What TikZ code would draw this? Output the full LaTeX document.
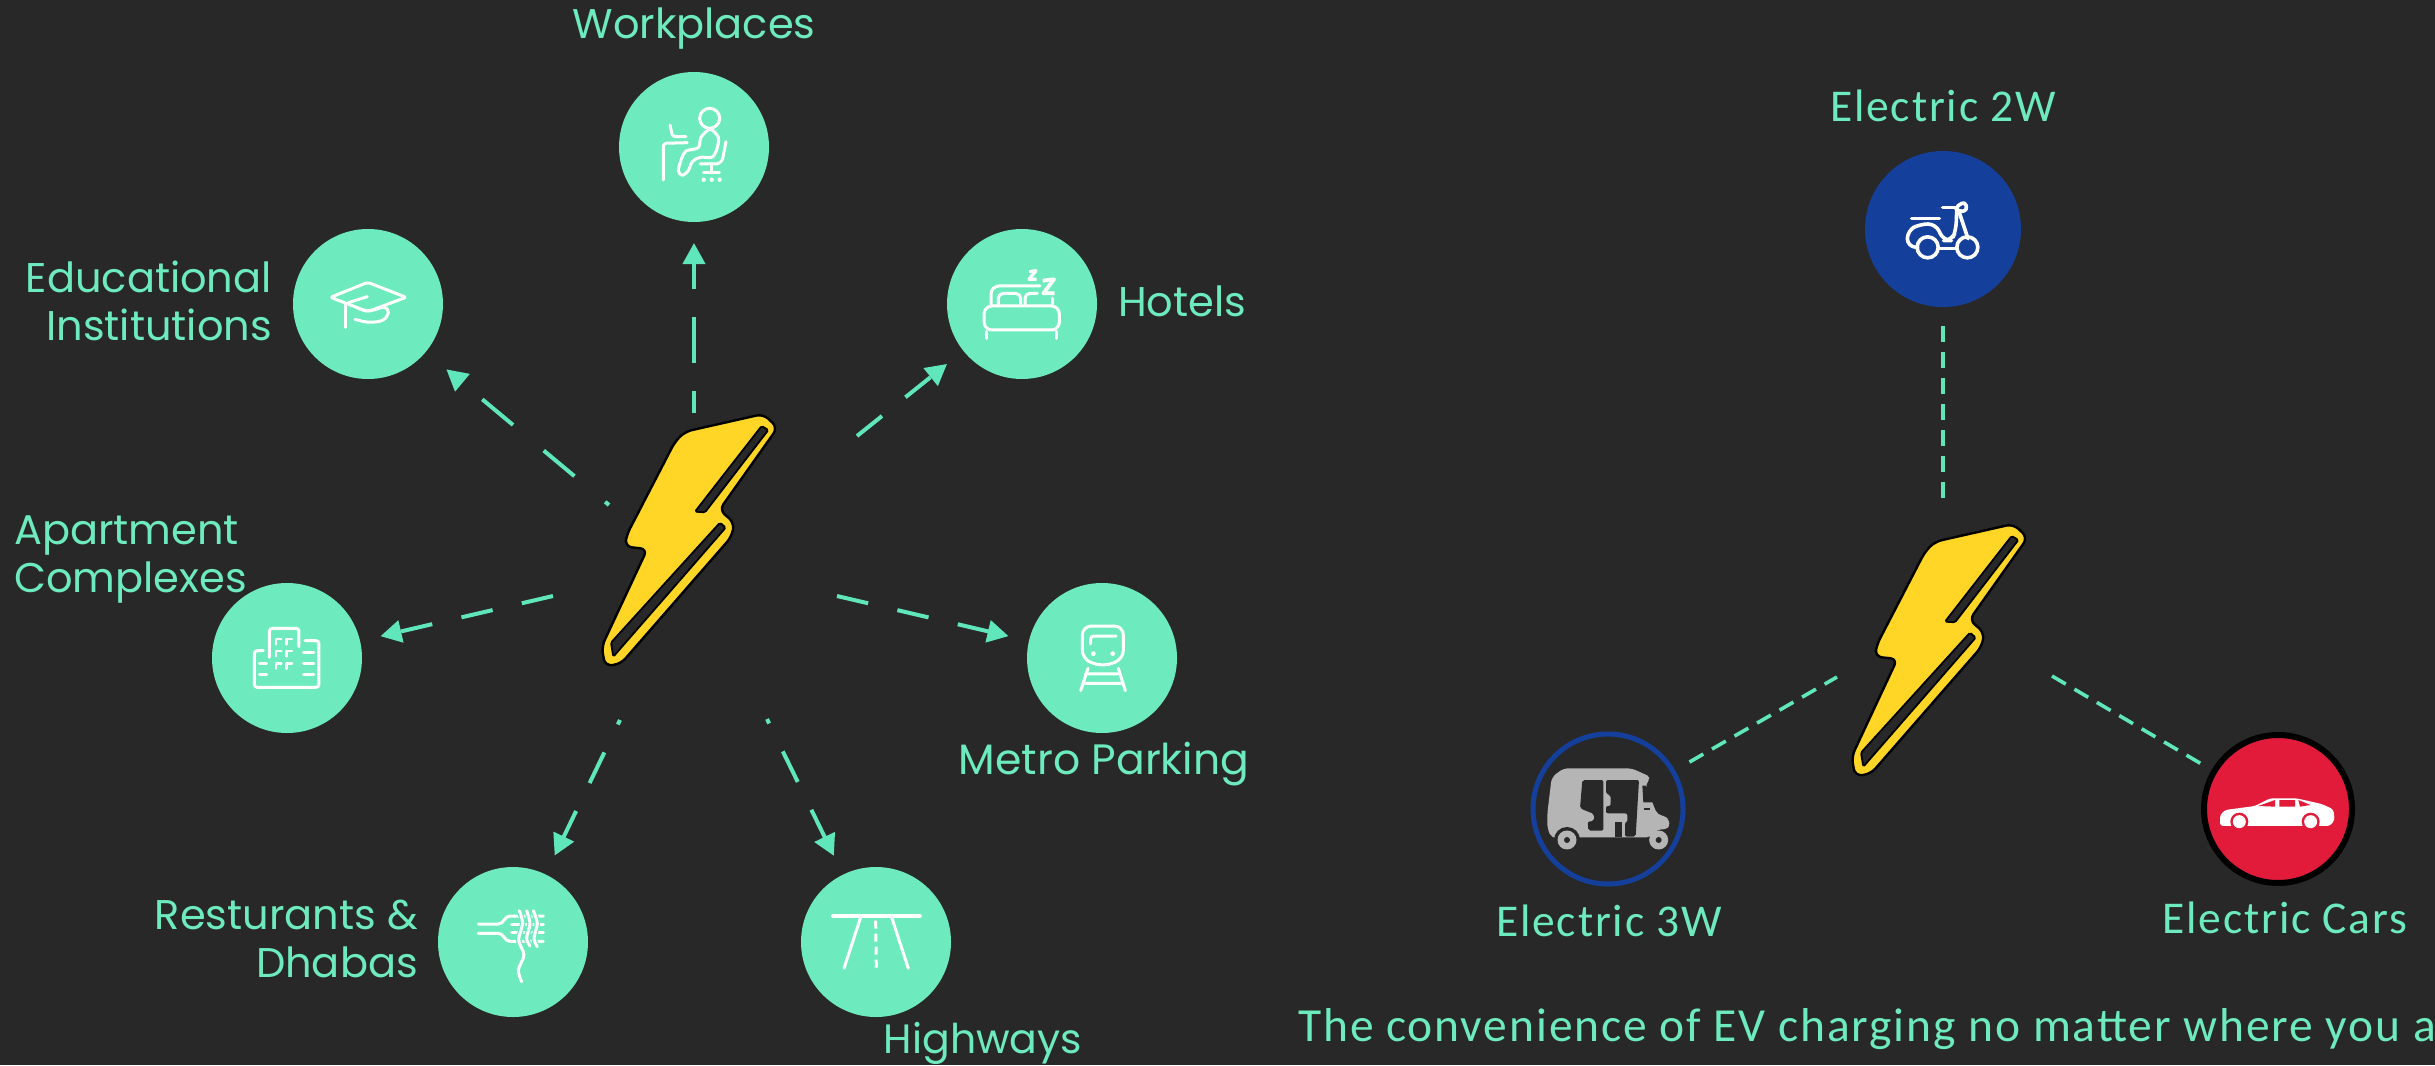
\documentclass[tikz,border=0pt]{standalone}
\usepackage{fontspec}
\setmainfont{Poppins}
\newfontfamily\carl[LetterSpace=4]{Carlito}
\usetikzlibrary{arrows.meta}
\definecolor{bgdark}{HTML}{282828}
\definecolor{mint}{HTML}{6DEBBE}
\definecolor{mintline}{HTML}{5FE6BB}
\definecolor{boltyellow}{HTML}{FFD625}
\definecolor{scooterblue}{HTML}{14409B}
\definecolor{carred}{HTML}{E31B3A}
\definecolor{rickshaw}{HTML}{B5B5B5}
\tikzset{
  hub/.style={circle,fill=mint,minimum size=150pt,inner sep=0pt,outer sep=0pt},
  lefttext/.style={text=mint,font=\fontsize{41.5}{48}\selectfont,inner sep=0pt},
  righttext/.style={text=mint,font=\carl\fontsize{45.5}{50}\selectfont,inner sep=0pt},
  spoke/.style={draw=mintline,line width=4pt,dash pattern=on 32pt off 30pt,shorten >=21pt,
    -{Triangle[length=21pt,width=22pt,fill=mintline]}},
  tie/.style={draw=mintline,line width=3.6pt,dash pattern=on 16pt off 10pt},
  iconzoom/.style={x=0.3333pt,y=-0.3333pt,draw=white,line width=3pt,line cap=round,line join=round},
  pics/bolt/.style={code={
    \begin{scope}[x=0.3333pt,y=-0.3333pt]
      \draw[black,fill=boltyellow,line width=2.4pt,line join=round,rounded corners=7pt]
        (640,102)--(683,143)--(508,390)--(553,428)--(545,470)--(212,852)--(165,858)--(155,800)
        --(292,507)--(225,500)--(230,465)--(375,185)--(405,155)--cycle;
      \draw[black,fill=bgdark,line width=1.8pt,line join=round,rounded corners=1.5pt]
        (635,138)--(655,150)--(465,397)--(435,395)--cycle;
      \draw[black,fill=bgdark,line width=1.8pt,line join=round,rounded corners=1.5pt]
        (510,428)--(527,443)--(190,830)--(183,788)--cycle;
    \end{scope}}}
}
\begin{document}
\begin{tikzpicture}[x=1pt,y=-1pt]
\useasboundingbox (0,0) rectangle (2435,1065);
\clip (0,0) rectangle (2435,1065);
\fill[bgdark] (0,0) rectangle (2435,1065);

% left hubs
\node[hub] (work) at (694,147) {};
\node[hub] (edu) at (368,304) {};
\node[hub] (hotel) at (1022,304) {};
\node[hub] (apt) at (287,658) {};
\node[hub] (metro) at (1102,658) {};
\node[hub] (food) at (513,942) {};
\node[hub] (road) at (876,942) {};

% free ends of the spokes
\coordinate (sWork) at (694,413);
\coordinate (sEdu) at (609,505);
\coordinate (sHotel) at (857,436);
\coordinate (sApt) at (553,596);
\coordinate (sMetro) at (837,596);
\coordinate (sFood) at (620,720);
\coordinate (sRoad) at (767,719);

\draw[spoke,dash pattern=on 46pt off 28pt,dash phase=24pt] (sWork) -- (work);
\draw[spoke,shorten >=27pt,dash pattern=on 40pt off 40pt,dash phase=35pt] (sEdu) -- (edu);
\draw[spoke] (sHotel) -- (hotel);
\draw[spoke] (sApt) -- (apt);
\draw[spoke] (sMetro) -- (metro);
\draw[spoke,dash pattern=on 34pt off 31pt,dash phase=29pt] (sFood) -- (food);
\draw[spoke,dash pattern=on 34pt off 31pt,dash phase=29pt] (sRoad) -- (road);

% bolts
\pic at (550,380) {bolt};
\pic at (1800,490) {bolt};

% left labels
\node[lefttext] (tWork) at (694,29) {Workplaces};
\node[lefttext,align=right,anchor=east] (tEdu) at (272,301) {Educational\\Institutions};
\node[lefttext,anchor=west] (tHotel) at (1118,301) {Hotels};
\node[lefttext,align=left,anchor=west] (tApt) at (14,560) {Apartment\\Complexes};
\node[lefttext,font=\fontsize{42.5}{48}\selectfont] (tMetro) at (1104,764) {Metro Parking};
\node[lefttext,align=right,anchor=east] (tFood) at (418,939) {Resturants \&\\Dhabas};
\node[lefttext,font=\fontsize{41}{48}\selectfont] (tRoad) at (983,1043) {Highways};

% icon: workplace
\begin{scope}[shift={(600,50)},iconzoom]
  \draw (329,205) circle[radius=10pt];
  \draw plot[smooth cycle,tension=0.5] coordinates {(330,238) (303,262) (295,293) (258,303) (245,325) (235,362) (247,376) (265,362) (277,335) (300,322) (335,322) (350,300) (355,262)};
  \draw[rounded corners=3pt] (190,390)--(190,280)--(262,278);
  \draw[rounded corners=2pt] (210,225)--(218,260)--(258,260);
  \draw[rounded corners=6pt] (378,275)--(365,342)--(300,342);
  \draw (335,342)--(335,368) (310,368)--(358,368);
  \fill[white] (311,389) circle[radius=2.2pt] (335,389) circle[radius=2.2pt] (359,389) circle[radius=2.2pt];
\end{scope}
% icon: cap
\begin{scope}[shift={(280,220)},iconzoom]
  \draw[rounded corners=2pt] (263,187)--(378,232)--(263,275)--(152,232)--cycle;
  \draw (205,248)--(262,230);
  \draw (198,250)--(198,322);
  \draw[rounded corners=8pt] (228,262)--(262,277)--(325,255)--(325,298)--(270,310)--(225,298);
\end{scope}
% icon: bed
\begin{scope}[shift={(930,220)},iconzoom]
  \draw[rounded corners=8pt] (183,255)--(183,198)--(330,198);
  \draw[rounded corners=5pt] (205,255)--(205,220)--(272,220)--(272,255);
  \draw[rounded corners=5pt] (285,255)--(285,220)--(322,220);
  \draw (368,235)--(368,255);
  \draw[rounded corners=8pt] (162,330)--(162,258)--(388,258)--(388,330)--cycle;
  \draw (170,335)--(170,355) (380,335)--(380,355);
  \draw[line width=3.8pt,line cap=butt] (338,182)--(372,178)--(340,220)--(374,220);
  \draw[line width=3.2pt,line cap=butt] (297,155)--(318,152)--(297,178)--(320,178);
\end{scope}
% icon: building
\begin{scope}[shift={(200,570)},iconzoom]
  \draw[rounded corners=3pt] (208,262)--(208,175)--(297,175)--(297,230);
  \draw[rounded corners=3pt] (190,242)--(163,242)--(163,352)--(357,352)--(357,212)--(315,212);
  \draw (178,282)--(200,282) (178,314)--(200,314) (310,247)--(342,247) (310,282)--(342,282) (310,314)--(342,314);
  \foreach \wx in {228,260}{\foreach \wy in {207,243,280}{
    \draw[line width=2.6pt] (\wx,\wy+16)--(\wx,\wy)--(\wx+16,\wy);}}
\end{scope}
% icon: train
\begin{scope}[shift={(1020,570)},iconzoom]
  \draw[rounded corners=9pt] (187,168)--(310,168)--(310,268)--(248,290)--(187,268)--cycle;
  \draw[rounded corners=3pt] (212,222)--(212,198)--(288,198);
  \fill[white] (220,251) circle[radius=2.4pt] (278,251) circle[radius=2.4pt];
  \draw (204,295)--(182,362) (295,295)--(316,362) (195,312)--(300,312) (190,340)--(308,340);
\end{scope}
% icon: fork
\begin{scope}[shift={(430,860)},iconzoom]
  \draw (145,192)--(205,192) to[out=0,in=180] (240,168)--(340,168);
  \draw (145,220)--(205,220) to[out=0,in=180] (240,244)--(340,244);
  \draw (245,192)--(340,192) (245,218)--(340,218);
  \foreach \nd in {
    {(268,152) (278,190) (266,240) (282,285) (265,330) (275,365)},
    {(290,152) (300,190) (290,235) (300,258)},
    {(310,152) (322,190) (312,235) (322,260)}}{
    \draw[mint,line width=5.5pt,line cap=butt] plot[smooth] coordinates \nd;
    \draw plot[smooth] coordinates \nd;}
\end{scope}
% icon: road
\begin{scope}[shift={(790,860)},iconzoom]
  \draw[line width=3.6pt] (128,168)--(390,168);
  \draw (212,172)--(162,325) (305,172)--(355,325);
  \draw[line cap=butt,line width=3pt,dash pattern=on 8pt off 5pt] (257,182)--(259,325);
\end{scope}

% right hubs
\node[circle,fill=scooterblue,minimum size=156pt,inner sep=0pt,outer sep=0pt] (two) at (1943,229) {};
\node[circle,draw=scooterblue,line width=5pt,minimum size=150pt,inner sep=0pt,outer sep=0pt] (three) at (1608,809) {};
\node[circle,fill=carred,draw=black,line width=6pt,minimum size=148pt,inner sep=0pt,outer sep=0pt] (car) at (2278,809) {};

% right ties
\coordinate (eTwo) at (1943,502);
\coordinate (eThree) at (1837,677);
\coordinate (eCar) at (2052,676);
\draw[tie,shorten <=19pt] (two) -- (eTwo);
\draw[tie,shorten <=19pt] (three) -- (eThree);
\draw[tie,shorten >=10pt] (eCar) -- (car);

% icon: scooter
\begin{scope}[shift={(1850,140)},iconzoom,line width=3.6pt]
  \draw (233,322) circle[radius=10.5pt] (352,322) circle[radius=10.5pt];
  \draw (265,325)--(322,325);
  \draw[rounded corners=8pt] (203,322)--(172,320)--(172,272)--(210,252)--(258,252)--(280,302)--(305,302)--(318,270)--(320,215);
  \draw (328,218)--(354,296);
  \draw (185,235)--(268,235) (278,203)--(315,203);
  \draw[rounded corners=4pt] (315,203)--(345,184)--(352,212)--(325,215)--cycle;
\end{scope}
% icon: auto rickshaw
\begin{scope}[shift={(1520,720)},x=0.3333pt,y=-0.3333pt]
  \fill[rickshaw,rounded corners=5pt] (130,145)--(335,145)--(395,172)--(375,192)--(412,285)--(445,290)--(450,326)--(405,330)--(395,352)--(190,352)--(95,355)--(82,325)--(82,280)--(95,172)--cycle;
  \fill[bgdark] (141,360) circle[radius=13pt];
  \fill[rickshaw] (141,360) circle[radius=9.5pt] (416,360) circle[radius=9.5pt];
  \fill[bgdark] (141,360) circle[radius=3pt] (416,360) circle[radius=3pt];
  \fill[bgdark,rounded corners=2pt] (187,180)--(250,180)--(250,332)--(205,332)--(203,305)--(222,303)--(222,282)--(180,265)--cycle;
  \fill[bgdark,rounded corners=2pt] (258,180)--(357,180)--(347,350)--(315,350)--(315,307)--(322,307)--(322,280)--(258,280)--(258,258)--(272,258)--(272,225)--(258,222)--cycle;
  \fill[bgdark] (285,307) rectangle (305,350);
  \fill[bgdark] (367,197)--(378,197)--(402,247)--(370,247)--cycle;
  \fill[bgdark] (372,265) rectangle (390,270);
\end{scope}
% icon: car
\begin{scope}[shift={(2190,720)},x=0.3333pt,y=-0.3333pt]
  \fill[white,rounded corners=3pt] (90,318)--(90,285)--(105,270)--(195,258)--(240,235)--(320,235)--(395,252)--(430,268)--(434,300)--(420,318)--cycle;
  \fill[carred] (148,305) circle[radius=9pt] (362,305) circle[radius=9pt];
  \fill[white] (148,305) circle[radius=6.5pt] (362,305) circle[radius=6.5pt];
  \fill[carred] (205,258)--(255,240)--(255,260)--cycle (268,240)--(315,240)--(315,260)--(268,260)--cycle (325,240)--(362,255)--(330,260)--cycle;
\end{scope}

% right labels
\node[righttext] (tTwo) at (1943,106) {Electric 2W};
\node[righttext] (tThree) at (1609,921) {Electric 3W};
\node[righttext] (tCar) at (2285,918) {Electric Cars};
\node[righttext,anchor=west,font=\carl\fontsize{47.5}{52}\selectfont] (tLine) at (1298,1029) {The convenience of EV charging no matter where you a};
\end{tikzpicture}
\end{document}
